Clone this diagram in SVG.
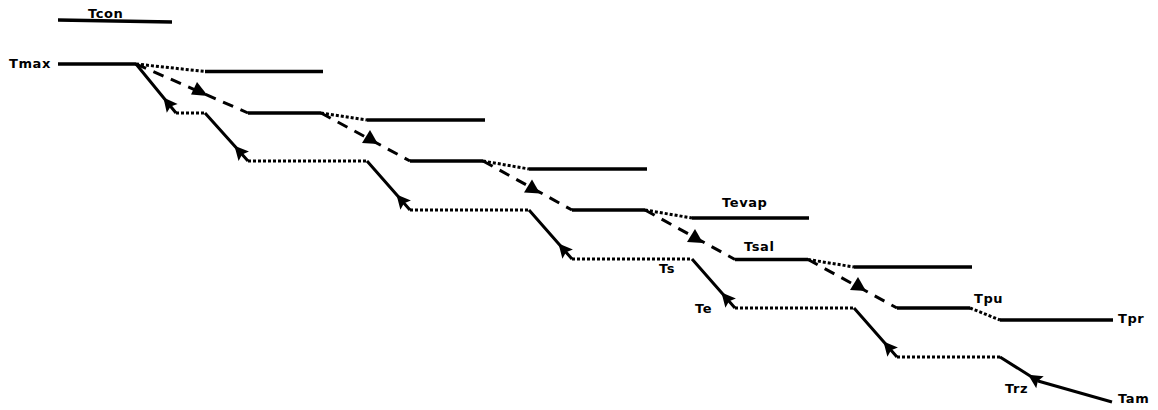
<svg xmlns="http://www.w3.org/2000/svg" xmlns:xlink="http://www.w3.org/1999/xlink" width="1158" height="410" viewBox="0 0 1158 410">
  <style>
    .lvl { stroke: #000; stroke-width: 3.5; fill: none; }
    .solid { stroke: #000; stroke-width: 3; fill: none; }
    .dot { stroke: #000; stroke-width: 3; stroke-dasharray: 3 2; fill: none; }
    .dash { stroke: #000; stroke-width: 3; stroke-dasharray: 11 8; fill: none; }
    .up { marker-mid: url(#barb); }
    .lbl { font-family: "DejaVu Sans", Verdana, sans-serif; font-weight: bold; font-size: 13px; letter-spacing: 0.6px; fill: #000; }
  </style>
  <defs>
    <marker id="barb" markerUnits="userSpaceOnUse" orient="auto" markerWidth="1" markerHeight="1" refX="0" refY="0" overflow="visible">
      <path d="M1,0 L-13,-7 L-10.5,0 L-13,7 Z" fill="#000"/>
    </marker>
    <path id="tri" d="M0,0 L8,14 L-8,13 Z" fill="#000"/>
  </defs>

  <!-- temperature levels -->
  <g id="levels">
    <g id="tcon"><path class="lvl" d="M58,20 L172,22"/></g>
    <g id="tmax"><path class="lvl" d="M58,64 L136,64"/></g>
    <g id="a1"><path class="lvl" d="M205,71.5 L323,71.5"/></g>
    <g id="a2"><path class="lvl" d="M367,120 L485,120"/></g>
    <g id="a3"><path class="lvl" d="M529,169 L647,169"/></g>
    <g id="tevap"><path class="lvl" d="M692,218 L809,218"/></g>
    <g id="a5"><path class="lvl" d="M854,267 L972,267"/></g>
    <g id="tpr"><path class="lvl" d="M1000,320 L1113,320"/></g>
    <g id="b1"><path class="lvl" d="M248,113 L321,113"/></g>
    <g id="b2"><path class="lvl" d="M410,161 L483,161"/></g>
    <g id="b3"><path class="lvl" d="M572,210 L645,210"/></g>
    <g id="tsal"><path class="lvl" d="M735,259.5 L808,259.5"/></g>
    <g id="tpu"><path class="lvl" d="M897,308 L970,308"/></g>
  </g>

  <!-- connectors -->
  <g id="connectors">
    <!-- lower dotted plateaus -->
    <path class="dot" d="M176,113 L205,113"/>
    <path class="dot" d="M248,161 L367,161"/>
    <path class="dot" d="M410,210 L529,210"/>
    <path class="dot" d="M572,259 L692,259"/>
    <path class="dot" d="M735,308 L854,308"/>
    <path class="dot" d="M897,357 L1000,357"/>

    <!-- dotted links to next upper level -->
    <path class="dot" d="M136,64 L205,71.5"/>
    <path class="dot" d="M321,113 L367,120"/>
    <path class="dot" d="M483,161 L529,169"/>
    <path class="dot" d="M645,210 L692,218"/>
    <path class="dot" d="M808,259.5 L854,267"/>
    <path class="dot" d="M970,308 L1000,320"/>

    <!-- dashed descents -->
    <path class="dash" d="M136,64 L248,113"/>
    <path class="dash" d="M321,113 L410,161"/>
    <path class="dash" d="M483,161 L572,210"/>
    <path class="dash" d="M645,210 L735,259.5"/>
    <path class="dash" d="M808,259.5 L897,308"/>
    <path d="M197,82 L208,96 L191,94.5 Z" fill="#000"/>
    <use xlink:href="#tri" href="#tri" x="370" y="130"/>
    <use xlink:href="#tri" href="#tri" x="532" y="179.5"/>
    <use xlink:href="#tri" href="#tri" x="695" y="229"/>
    <use xlink:href="#tri" href="#tri" x="858" y="277"/>

    <!-- solid rising steps -->
    <path class="solid up" d="M176,113 L164,98.3 L136,64"/>
    <path class="solid up" d="M248,161 L235.1,146.6 L205,113"/>
    <path class="solid up" d="M410,210 L397.1,195.3 L367,161"/>
    <path class="solid up" d="M572,259 L559.1,244.3 L529,210"/>
    <path class="solid up" d="M735,308 L722.1,293.3 L692,259"/>
    <path class="solid up" d="M897,357 L884.1,342.3 L854,308"/>
    <path class="solid" d="M1112,402 L1038,381"/>
    <path class="solid up" d="M1038,381 L1029,375.3 L1000,357"/>
  </g>

  <!-- labels -->
  <g id="labels">
    <text class="lbl" x="88" y="18">Tcon</text>
    <text class="lbl" x="9" y="68">Tmax</text>
    <text class="lbl" x="722" y="207">Tevap</text>
    <text class="lbl" x="744" y="251">Tsal</text>
    <text class="lbl" x="659" y="273">Ts</text>
    <text class="lbl" x="695" y="313">Te</text>
    <text class="lbl" x="974" y="303">Tpu</text>
    <text class="lbl" x="1118" y="323">Tpr</text>
    <text class="lbl" x="1005" y="393">Trz</text>
    <text class="lbl" x="1118" y="403">Tam</text>
  </g>
</svg>
